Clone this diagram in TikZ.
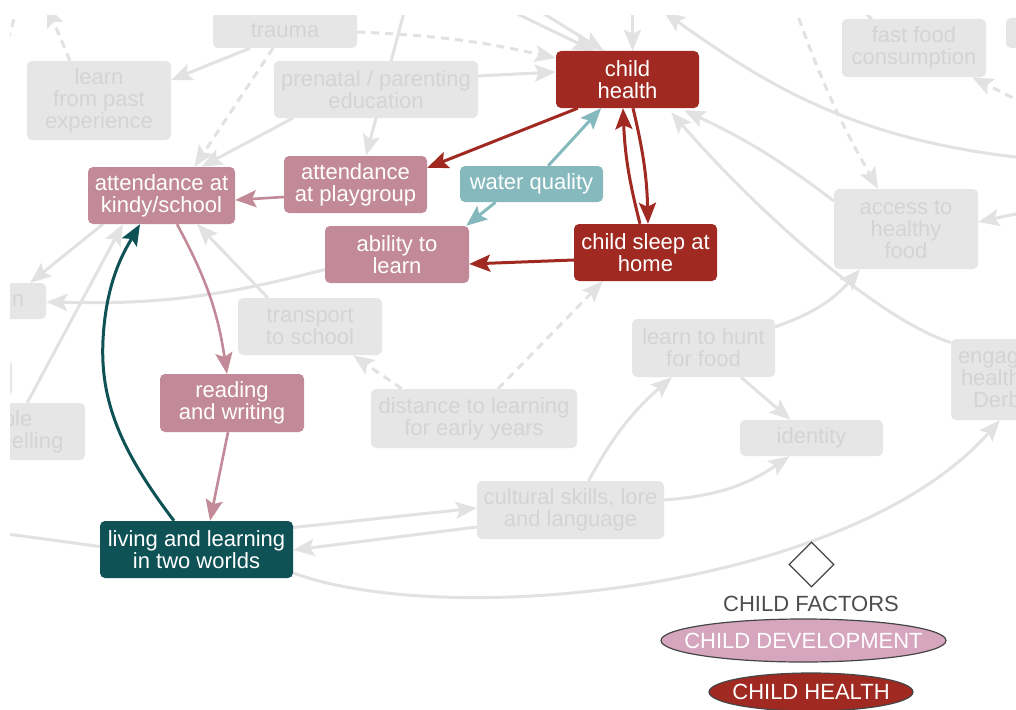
\documentclass[tikz,border=0pt]{standalone}
\usepackage{fontspec}
\setmainfont{Liberation Sans}
\usetikzlibrary{arrows.meta,calc,shapes.geometric,backgrounds}

\definecolor{fadefill}{RGB}{230,230,230}
\definecolor{fadetext}{RGB}{212,212,212}
\definecolor{fadeedge}{RGB}{226,226,226}
\definecolor{chred}{RGB}{160,42,33}
\definecolor{chpink}{RGB}{194,138,152}
\definecolor{chlteal}{RGB}{134,185,189}
\definecolor{chdteal}{RGB}{14,82,86}
\definecolor{legpink}{RGB}{214,165,190}
\definecolor{legline}{RGB}{70,70,70}
\definecolor{legtext}{RGB}{77,77,77}

\tikzset{
  box/.style={rectangle, rounded corners=5pt, inner sep=0pt, align=center,
    font=\fontsize{22pt}{22pt}\selectfont},
  fade/.style={box, fill=fadefill, text=fadetext},
  redbox/.style={box, fill=chred, text=white},
  pinkbox/.style={box, fill=chpink, text=white},
  ltealbox/.style={box, fill=chlteal, text=white},
  dtealbox/.style={box, fill=chdteal, text=white},
  tip/.style={-{Stealth[length=21pt,width=17pt,inset=4pt]}},
  fl/.style={draw=fadeedge, line width=3pt},
  fe/.style={fl, tip},
  dsh/.style={dash pattern=on 8pt off 6pt},
  redarrow/.style={draw=chred, line width=3pt, tip},
  pinkarrow/.style={draw=chpink, line width=2.6pt, tip},
  ltealarrow/.style={draw=chlteal, line width=3pt, tip},
  dtealarrow/.style={draw=chdteal, line width=3pt, tip},
  legfont/.style={font=\fontsize{22pt}{22pt}\selectfont},
  legoval/.style={ellipse, draw=legline, line width=1.2pt, inner sep=0pt, text=white, legfont},
}

\begin{document}
\begin{tikzpicture}[x=1pt,y=-1pt]
\useasboundingbox (0,0) rectangle (1016,709);

% ---------- nodes ----------
\begin{scope}
\clip (10,16) rectangle (1016,709);

% faded factors
\node[fade, minimum width=144pt, minimum height=36pt] (trauma) at (285,30) {trauma};
\node[fade, minimum width=144pt, minimum height=79pt] (learnpast) at (99,100.5) {learn\\from past\\experience};
\node[fade, minimum width=204pt, minimum height=57pt] (prenatal) at (376,89.5) {prenatal / parenting\\education};
\node[fade, minimum width=144pt, minimum height=58pt] (fastfood) at (914,48) {fast food\\consumption};
\node[fade, minimum width=144pt, minimum height=30pt] (topright) at (1078,33) {};
\node[fade, minimum width=144pt, minimum height=80pt] (access) at (906,229) {access to\\healthy\\food};
\node[fade, minimum width=106pt, minimum height=36pt] (nbox) at (-7,301) {\makebox[106pt][l]{\hspace*{72pt}n}};
\node[fade, minimum width=92pt, minimum height=36pt] (fragbox) at (-34,378) {};
\node[fade, minimum width=144pt, minimum height=57pt, text width=144pt, align=left] (blebox) at (13,431.5)
  {\hspace*{62pt}ble\\\hspace*{71pt}elling};
\node[fade, minimum width=144pt, minimum height=57pt] (transport) at (310,326.5) {transport\\to school};
\node[fade, minimum width=143pt, minimum height=58pt] (hunt) at (703.5,348) {learn to hunt\\for food};
\node[fade, minimum width=144pt, minimum height=81pt, text width=144pt, align=left] (engag) at (1023,379.5)
  {\hspace*{7pt}engag\\\hspace*{10pt}health\\\hspace*{22pt}Derb};
\node[fade, minimum width=206pt, minimum height=59pt] (distance) at (474,418.5) {distance to learning\\for early years};
\node[fade, minimum width=143pt, minimum height=36pt] (identity) at (811.5,438) {identity};
\node[fade, minimum width=187pt, minimum height=58pt] (cultural) at (570.5,510) {cultural skills, lore\\and language};

% highlighted factors
\node[redbox, minimum width=143pt, minimum height=57pt] (childhealth) at (627.5,79.5) {child\\health};
\node[redbox, minimum width=143pt, minimum height=57pt] (sleep) at (645.5,252.5) {child sleep at\\home};
\node[pinkbox, minimum width=143pt, minimum height=57pt] (playgroup) at (355.5,184.5) {attendance\\at playgroup};
\node[pinkbox, minimum width=147pt, minimum height=57pt] (kindy) at (161.5,195.5) {attendance at\\kindy/school};
\node[pinkbox, minimum width=144pt, minimum height=57pt] (ability) at (397,254.5) {ability to\\learn};
\node[pinkbox, minimum width=144pt, minimum height=58pt] (reading) at (232,403) {reading\\and writing};
\node[ltealbox, minimum width=143pt, minimum height=36pt] (water) at (531.5,184) {water quality};
\node[dtealbox, minimum width=193pt, minimum height=57pt] (living) at (196.5,549.5) {living and learning\\in two worlds};

% legend
\node[diamond, draw=legline, line width=1.2pt, minimum width=45pt, minimum height=45pt, inner sep=0pt] (ldiamond) at (811.5,564.5) {};
\node[legfont, text=legtext] (lfactors) at (811,604) {CHILD FACTORS};
\node[legoval, fill=legpink, minimum width=285pt, minimum height=43pt] (ldev) at (803.5,640.5)
  {\makebox[0pt]{CHILD DEVELOPMENT}};
\node[legoval, fill=chred, minimum width=204pt, minimum height=38pt] (lhealth) at (811,692)
  {\makebox[0pt]{CHILD HEALTH}};
\end{scope}

% ---------- connectors (beneath the boxes) ----------
\begin{scope}[on background layer]
\fill[white] (0,0) rectangle (1016,709);
\clip (10,16) rectangle (1016,709);

\coordinate (upleft) at (47,6);
\coordinate (cornerA) at (18,6);
\coordinate (cornerB) at (6,46);
\coordinate (abovePG) at (406,5);
\coordinate (aboveA) at (505,8);
\coordinate (aboveB) at (541,12);
\coordinate (aboveC) at (632.5,5);
\coordinate (farright) at (1025,158);
\coordinate (topend) at (664,12);
\coordinate (leftend) at (0,533);
\coordinate (rightA) at (1025,212);
\coordinate (rightB) at (1025,104);
\coordinate (aboveD) at (794,5);
\coordinate (aboveE) at (855,5);

% faded links
\draw[fe] ($(trauma.south)+(-35,0)$) -- ($(learnpast.east)+(0,-20.5)$);
\draw[fe,dsh] ($(trauma.south)+(-12,0)$) -- ($(kindy.north)+(33,0)$);
\draw[fe] ($(prenatal.south west)+(19,0)$) -- ($(kindy.north)+(40,0)$);
\draw[fe,dsh] ($(learnpast.north)+(-29,0)$) -- (upleft);
\draw[fl,dsh] (cornerA) -- (cornerB);
\draw[fe,dsh] ($(trauma.east)+(0,2)$) to[bend left=5] ($(childhealth.west)+(0,-21.5)$);
\draw[fe] ($(prenatal.east)+(0,-13.5)$) -- ($(childhealth.west)+(0,-7.5)$);
\draw[fe] (abovePG) -- ($(playgroup.north)+(10.5,0)$);
\draw[fe] (aboveA) -- ($(childhealth.north west)+(38,0)$);
\draw[fe] (aboveB) -- ($(childhealth.north west)+(48,0)$);
\draw[fe] (aboveC) -- ($(childhealth.north)+(5,0)$);
\draw[fe] (farright) .. controls (850,140) and (760,80) .. (topend);
\draw[fe] ($(access.west)+(0,-28)$) to[bend right=6] ($(childhealth.south east)+(-15,2)$);
\draw[fe] ($(engag.west)+(0,-37)$) .. controls (880,320) and (760,215) .. ($(childhealth.south east)+(-28,4)$);
\draw[fe] ($(hunt.north east)+(0,8)$) to[bend right=15] ($(access.south)+(-46,0)$);
\draw[fe] ($(ability.west)+(0,15)$) to[bend left=8] ($(nbox.east)+(0,1)$);
\draw[fe] ($(kindy.south west)+(15,0)$) -- ($(nbox.north east)+(-16,0)$);
\draw[fe] ($(blebox.north east)+(-58,0)$) -- ($(kindy.south west)+(35,0)$);
\draw[fe] ($(transport.north west)+(30,0)$) -- ($(kindy.south east)+(-38,0)$);
\draw[fe,dsh] ($(distance.north west)+(31,0)$) -- ($(transport.south)+(43,0)$);
\draw[fe,dsh] ($(distance.north)+(24,0)$) -- ($(sleep.south west)+(29,0)$);
\draw[fe] ($(hunt.south)+(37.5,0)$) -- ($(identity.north)+(-21,0)$);
\draw[fe] ($(cultural.north)+(18,0)$) to[bend left=10] ($(hunt.south west)+(40,0)$);
\draw[fe] ($(cultural.east)+(0,-10)$) to[bend right=15] ($(identity.south)+(-22,0)$);
\draw[fe] ($(living.east)+(0,-22)$) -- ($(cultural.west)+(0,-2)$);
\draw[fe] ($(cultural.west)+(0,17)$) -- ($(living.east)+(0,0.5)$);
\draw[fl] ($(living.west)+(0,-3)$) -- (leftend);
\draw[fe] ($(living.east)+(0,23.5)$) .. controls (450,630) and (850,590) .. ($(engag.south west)+(49,0)$);
\draw[fe] (rightA) -- ($(access.east)+(0,-7)$);
\draw[fe,dsh] (rightB) -- ($(fastfood.south east)+(-14,0)$);
\draw[fe,dsh] (aboveD) to[bend right=5] ($(access.north)+(-28,0)$);
\draw[fl] ($(fastfood.north west)+(30,0)$) -- (aboveE);

% highlighted links
\draw[redarrow] ($(childhealth.south west)+(22,0)$) -- ($(playgroup.north east)+(0,12)$);
\draw[pinkarrow] ($(playgroup.west)+(0,12.5)$) -- ($(kindy.east)+(0,4.5)$);
\draw[ltealarrow] (water) -- (childhealth);
\draw[ltealarrow] ($(water.south)+(-36,0)$) -- ($(ability.north east)+(-3,0)$);
\draw[redarrow] ($(sleep.north)+(-5.5,0)$) to[bend left=6] ($(childhealth.south)+(-4.5,0)$);
\draw[redarrow] ($(childhealth.south)+(5.5,0)$) to[bend left=6] ($(sleep.north)+(2.5,0)$);
\draw[redarrow] ($(sleep.west)+(0,7.5)$) -- ($(ability.east)+(0,9.5)$);
\draw[pinkarrow] ($(kindy.south)+(15.5,0)$) to[bend left=10] ($(reading.north)+(-5,0)$);
\draw[pinkarrow] ($(reading.south)+(-4,0)$) -- ($(living.north)+(13.5,0)$);
\draw[dtealarrow] ($(living.north)+(-22.5,0)$) .. controls (120,450) and (100,400) .. (103,340)
  .. controls (106,280) and (125,250) .. ($(kindy.south)+(-21.5,0)$);
\end{scope}
\end{tikzpicture}
\end{document}
